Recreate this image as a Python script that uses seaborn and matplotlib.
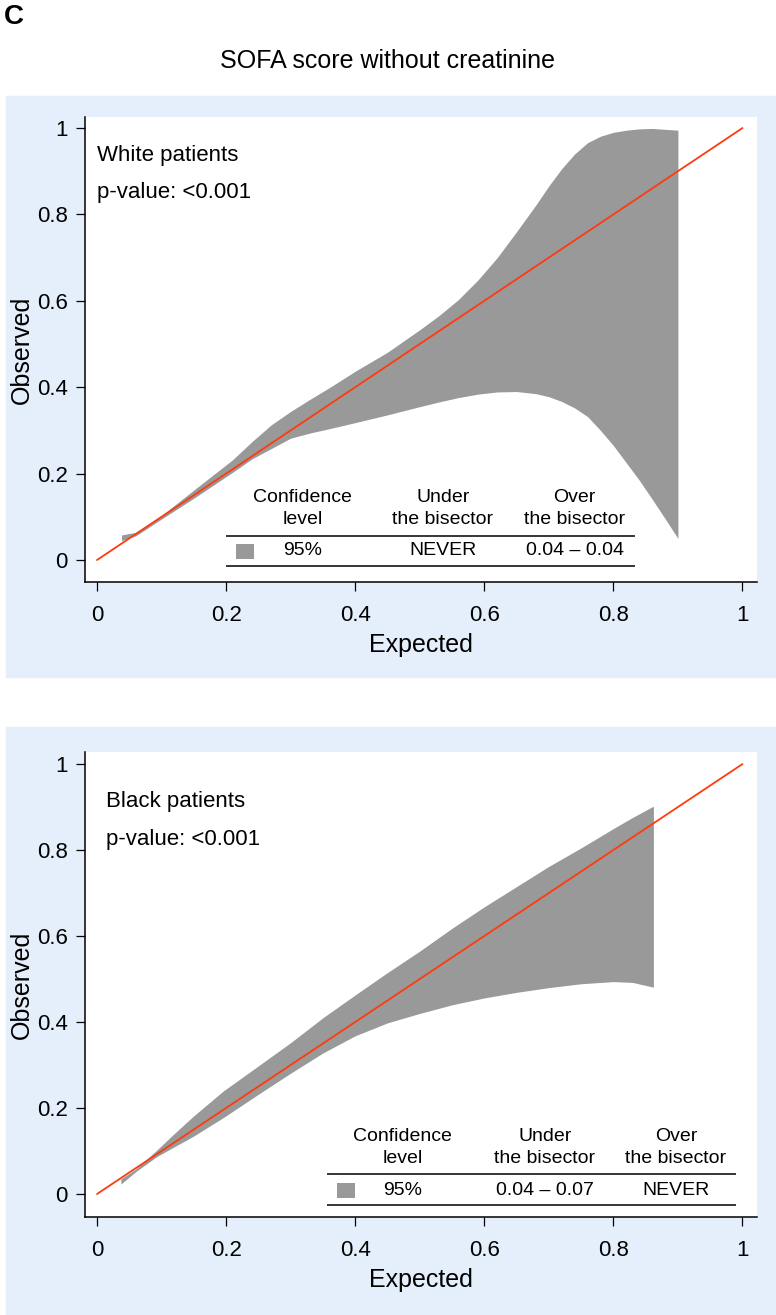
import numpy as np
import matplotlib
matplotlib.use("Agg")
import matplotlib.pyplot as plt
import seaborn as sns
from matplotlib.patches import Rectangle

# ── Data ─────────────────────────────────────────────────────
DIAG = [0.0, 1.0]

WHITE_X  = [0.038, 0.06, 0.10, 0.15, 0.21, 0.24, 0.27, 0.30, 0.33, 0.36, 0.40, 0.45,
            0.50, 0.53, 0.56, 0.59, 0.62, 0.65, 0.68, 0.70, 0.72, 0.74, 0.76, 0.78,
            0.80, 0.82, 0.84, 0.86, 0.88, 0.90]
WHITE_HI = [0.058, 0.064, 0.103, 0.162, 0.232, 0.274, 0.313, 0.344, 0.372, 0.399,
            0.437, 0.481, 0.533, 0.566, 0.603, 0.648, 0.700, 0.760, 0.822, 0.866,
            0.906, 0.940, 0.966, 0.981, 0.990, 0.995, 0.998, 0.999, 0.997, 0.995]
WHITE_LO = [0.045, 0.056, 0.095, 0.143, 0.203, 0.234, 0.258, 0.282, 0.294, 0.304,
            0.318, 0.336, 0.355, 0.366, 0.376, 0.384, 0.389, 0.390, 0.385, 0.378,
            0.367, 0.352, 0.332, 0.300, 0.265, 0.225, 0.185, 0.141, 0.096, 0.050]

BLACK_X  = [0.037, 0.06, 0.0925, 0.12, 0.15, 0.196, 0.25, 0.30, 0.35, 0.40, 0.45,
            0.50, 0.55, 0.60, 0.65, 0.70, 0.75, 0.80, 0.83, 0.862]
BLACK_HI = [0.035, 0.058, 0.102, 0.141, 0.182, 0.240, 0.298, 0.352, 0.410, 0.463,
            0.515, 0.565, 0.618, 0.668, 0.715, 0.762, 0.805, 0.850, 0.876, 0.902]
BLACK_LO = [0.023, 0.052, 0.087, 0.110, 0.135, 0.178, 0.232, 0.281, 0.328, 0.368,
            0.398, 0.420, 0.440, 0.456, 0.469, 0.480, 0.489, 0.494, 0.492, 0.481]

TICKS       = [0, 0.2, 0.4, 0.6, 0.8, 1]
TICK_LABELS = ["0", "0.2", "0.4", "0.6", "0.8", "1"]

HEADERS = ["Confidence\nlevel", "Under\nthe bisector", "Over\nthe bisector"]
WHITE_ROW = ["95%", "NEVER", "0.04 \u2013 0.04"]
BLACK_ROW = ["95%", "0.04 \u2013 0.07", "NEVER"]

BAND   = "#999999"
LINE   = "#ff3a10"
PANEL  = "#e4effb"

sns.set_theme(style="white")
plt.rcParams["font.family"] = ["Liberation Sans", "DejaVu Sans"]
plt.rcParams["text.color"] = "black"

W, H = 776, 1315
fig = plt.figure(figsize=(W / 100, H / 100), dpi=100)

# light blue graph regions
for top, bot in [(96, 677), (727, 1315)]:
    fig.patches.append(Rectangle((6 / W, 1 - bot / H), 770 / W, (bot - top) / H,
                                 transform=fig.transFigure, color=PANEL, zorder=-5))

fig.text(14 / W, 1 - 17 / H, "C", fontsize=20, fontweight="bold", ha="center", va="center")
fig.text(0.5, 1 - 61 / H, "SOFA score without creatinine", fontsize=18,
         ha="center", va="center")


def panel(ax_top, ax_bot, x, lo, hi, label, lab_xy, row, tab, ylim):
    ax = fig.add_axes([85 / W, 1 - ax_bot / H, (757 - 85) / W, (ax_bot - ax_top) / H])
    ax.set_facecolor("white")
    ax.fill_between(x, lo, hi, color=BAND, lw=0, zorder=1)
    sns.lineplot(x=DIAG, y=DIAG, ax=ax, color=LINE, lw=1.3, zorder=3)
    ax.set_xlim(-0.0186, 1.0225)
    ax.set_ylim(*ylim)
    ax.set_xticks(TICKS, TICK_LABELS)
    ax.set_yticks(TICKS, TICK_LABELS)
    for s in ["top", "right"]:
        ax.spines[s].set_visible(False)
    for s in ["left", "bottom"]:
        ax.spines[s].set_color("black")
        ax.spines[s].set_linewidth(1.1)
    ax.tick_params(axis="both", direction="out", length=6.5, width=0.9,
                   color="black", labelsize=16, labelcolor="black", left=True, bottom=True)
    ax.tick_params(axis="x", pad=10)
    ax.tick_params(axis="y", pad=6)
    ax.set_xlabel("Expected", fontsize=18, labelpad=5, color="black")
    ax.set_ylabel("Observed", fontsize=18, labelpad=2, color="black")

    ax.text(lab_xy[0], lab_xy[1], label, fontsize=16, va="baseline", ha="left")
    ax.text(lab_xy[0], lab_xy[2], "p-value: <0.001", fontsize=16, va="baseline", ha="left")

    # table legend
    x0, x1, cols, y_h, y_top, y_row, y_bot, sq = tab
    for cx, h in zip(cols, HEADERS):
        ax.text(cx, y_h, h, fontsize=14, ha="center", va="center", linespacing=1.4)
    for cx, r in zip(cols, row):
        ax.text(cx, y_row, r, fontsize=14, ha="center", va="center")
    ax.hlines([y_top, y_bot], x0, x1, color="black", lw=1.1, zorder=4)
    ax.add_patch(Rectangle((sq[0], sq[1]), 0.028, 0.035, color=BAND, lw=0, zorder=4))
    return ax


panel(117, 582, WHITE_X, WHITE_LO, WHITE_HI, "White patients", (0.0, 0.924, 0.838),
      WHITE_ROW,
      (0.200, 0.833, [0.318, 0.536, 0.740], 0.119, 0.0556, 0.021, -0.014, (0.215, 0.002)),
      (-0.0509, 1.0255))

panel(752, 1217, BLACK_X, BLACK_LO, BLACK_HI, "Black patients", (0.014, 0.900, 0.812),
      BLACK_ROW,
      (0.356, 0.990, [0.473, 0.694, 0.897], 0.108, 0.0465, 0.009, -0.026, (0.372, -0.009)),
      (-0.0535, 1.028))

fig.savefig("out.png", dpi=100)
